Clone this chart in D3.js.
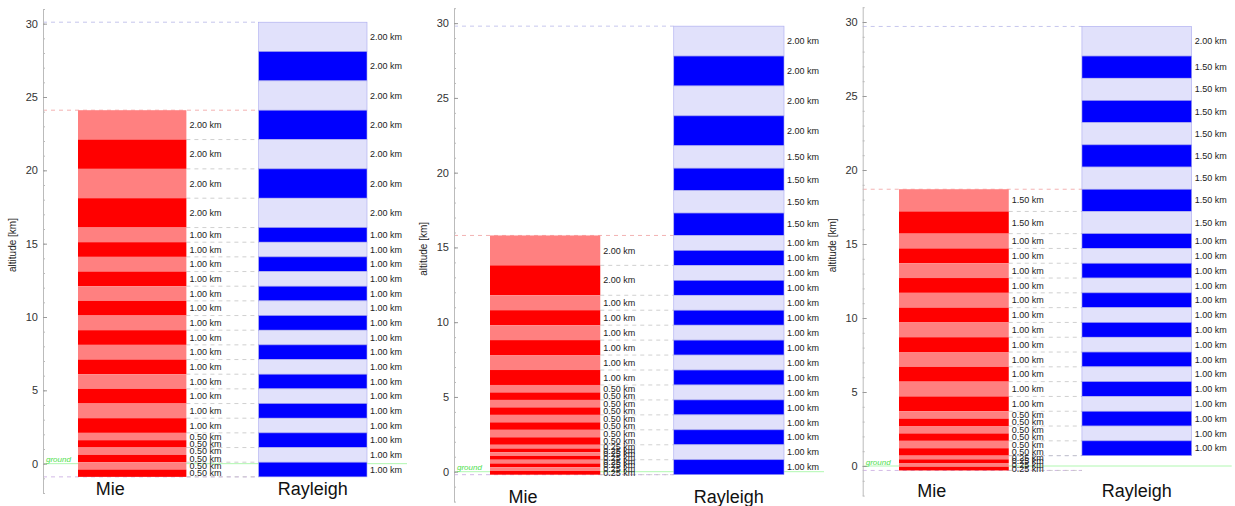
<!DOCTYPE html>
<html>
<head>
<meta charset="utf-8">
<script src="https://cdn.jsdelivr.net/npm/d3@7"></script>
<style>
  body { margin: 0; background: #fff; }
  svg { font-family: "Liberation Sans", Arial, sans-serif; }
</style>
</head>
<body>
<svg id="chart" width="1235" height="506"></svg>
<script>
// layer thicknesses in km, listed from the top of each column down
const mieLayers1 = [2, 2, 2, 2, 1, 1, 1, 1, 1, 1, 1, 1, 1, 1, 1, 1, 1, 1, 0.5, 0.5, 0.5, 0.5, 0.5, 0.5];
const rayLayers1 = [2, 2, 2, 2, 2, 2, 2, 1, 1, 1, 1, 1, 1, 1, 1, 1, 1, 1, 1, 1, 1, 1, 1, 1];
const mieLayers2 = [2, 2, 1, 1, 1, 1, 1, 1, 0.5, 0.5, 0.5, 0.5, 0.5, 0.5, 0.5, 0.5, 0.25, 0.25, 0.25, 0.25, 0.25, 0.25, 0.25, 0.25];
const rayLayers2 = [2, 2, 2, 2, 1.5, 1.5, 1.5, 1.5, 1, 1, 1, 1, 1, 1, 1, 1, 1, 1, 1, 1, 1, 1, 1, 1];
const mieLayers3 = [1.5, 1.5, 1, 1, 1, 1, 1, 1, 1, 1, 1, 1, 1, 1, 0.5, 0.5, 0.5, 0.5, 0.5, 0.5, 0.25, 0.25, 0.25, 0.25];
const rayLayers3 = [2, 1.5, 1.5, 1.5, 1.5, 1.5, 1.5, 1.5, 1.5, 1, 1, 1, 1, 1, 1, 1, 1, 1, 1, 1, 1, 1, 1, 1];
// altitude of the bottom of each column (km)
const mieBases = [-0.9, -0.2, -0.3];
const rayBases = [-0.9, -0.2, 0.7];
const categories = ['Mie', 'Rayleigh'];
const altDomain = [-2, 31];
const majorTicks = [0, 5, 10, 15, 20, 25, 30];

const colors = {
  Mie: { dark: '#ff0000', light: '#ff8080', stroke: 'none', edge: '#f0a0a0' },
  Rayleigh: { dark: '#0000ff', light: '#e1e1fb', stroke: '#a8a8ee', edge: '#b8b8e8' }
};

// panel layout (screen positions)
const panels = [
  { axisX: 43, top: 9, bottom: 493, bars: [78, 367], mie: mieLayers1, ray: rayLayers1 },
  { axisX: 454, top: 8.2, bottom: 501.6, bars: [490, 784], mie: mieLayers2, ray: rayLayers2 },
  { axisX: 862.7, top: 7.2, bottom: 495.6, bars: [899, 1191.7], mie: mieLayers3, ray: rayLayers3 }
];

// turn thickness lists into stacked layers with absolute altitudes
const stackLayers = (layers, base) => {
  let y1 = base + d3.sum(layers);
  return layers.map((t, i) => {
    const d = { top: y1, bottom: y1 - t, thick: t, fromBottom: layers.length - 1 - i };
    y1 -= t;
    return d;
  });
};

const svg = d3.select('#chart');

panels.forEach((p, pi) => {
  const y = d3.scaleLinear().domain(altDomain).range([p.bottom, p.top]);
  const x = d3.scaleBand().domain(categories).range(p.bars).paddingInner(0.4);
  const g = svg.append('g');

  const mie = stackLayers(p.mie, mieBases[pi]);
  const ray = stackLayers(p.ray, rayBases[pi]);
  const mieTop = mie[0].top;
  const rayTop = ray[0].top;
  const mieRight = x('Mie') + x.bandwidth();
  const rayLeft = x('Rayleigh');

  // ground line
  g.append('line')
    .attr('x1', p.axisX).attr('x2', p.bars[1] + 40)
    .attr('y1', y(0)).attr('y2', y(0))
    .style('stroke', '#9cf59c').style('stroke-width', 0.8);
  g.append('text')
    .attr('x', p.axisX + 3).attr('y', y(0) - 1.5)
    .style('font-size', '8px').style('font-style', 'italic')
    .style('fill', '#4ee04e')
    .text('ground');

  // top / bottom guide lines from the axis
  const guide = (alt, color) => g.append('line')
    .attr('x1', p.axisX).attr('x2', rayLeft)
    .attr('y1', y(alt)).attr('y2', y(alt))
    .style('stroke', color).style('stroke-width', 0.8)
    .style('stroke-dasharray', '4,4');
  guide(rayTop, colors.Rayleigh.edge);
  guide(mieTop, colors.Mie.edge);
  guide(Math.min(mieBases[pi], rayBases[pi]), '#c8a8e0');
  if (rayBases[pi] > mieBases[pi]) {
    g.append('line')
      .attr('x1', mieRight).attr('x2', rayLeft)
      .attr('y1', y(rayBases[pi])).attr('y2', y(rayBases[pi]))
      .style('stroke', colors.Rayleigh.edge).style('stroke-width', 0.8)
      .style('stroke-dasharray', '4,4');
  }

  // dashed lines between the columns at Mie boundaries, skipping ones closer than 1 km
  const bounds = [];
  let last = mieTop;
  mie.forEach((d, i) => {
    if (last - d.bottom >= 0.99 || i === mie.length - 1) {
      bounds.push(d.bottom);
      last = d.bottom;
    }
  });
  g.selectAll('line.bound').data(bounds).join('line')
    .attr('class', 'bound')
    .attr('x1', mieRight).attr('x2', rayLeft)
    .attr('y1', d => y(d)).attr('y2', d => y(d))
    .style('stroke', '#c4c4c4').style('stroke-width', 0.8)
    .style('stroke-dasharray', '4,4');

  // layered columns
  [['Mie', mie], ['Rayleigh', ray]].forEach(([cat, layers]) => {
    const c = colors[cat];
    g.selectAll(`rect.${cat}`).data(layers).join('rect')
      .attr('class', cat)
      .attr('x', x(cat))
      .attr('width', x.bandwidth())
      .attr('y', d => y(d.top))
      .attr('height', d => y(d.bottom) - y(d.top))
      .style('fill', d => d.fromBottom % 2 === 0 ? c.dark : c.light)
      .style('stroke', c.stroke)
      .style('stroke-width', 0.6);

    g.selectAll(`text.${cat}`).data(layers).join('text')
      .attr('class', cat)
      .attr('x', x(cat) + x.bandwidth() + 3)
      .attr('y', d => y((d.top + d.bottom) / 2))
      .attr('dy', '0.35em')
      .style('font-size', '9px')
      .style('fill', '#222')
      .text(d => `${d.thick.toFixed(2)} km`);

    g.append('text')
      .attr('x', x(cat) + x.bandwidth() / 2 + (cat === 'Mie' ? -22 : 0))
      .attr('y', p.bottom + 1.5)
      .attr('text-anchor', 'middle')
      .style('font-size', '18px')
      .style('fill', '#111')
      .text(cat);
  });

  // altitude axis
  const axisG = g.append('g').attr('transform', `translate(${p.axisX},0)`);
  axisG.call(d3.axisLeft(y).tickValues(d3.range(-2, 32)).tickSizeInner(-2).tickSizeOuter(0).tickFormat(''))
    .call(a => a.selectAll('line, path').style('stroke', '#bbb'));
  const major = g.append('g').attr('transform', `translate(${p.axisX},0)`)
    .call(d3.axisLeft(y).tickValues(majorTicks).tickSizeInner(-4).tickSizeOuter(0).tickPadding(5));
  major.select('.domain').remove();
  major.selectAll('line').style('stroke', '#999');
  major.selectAll('text').style('font-size', '11px').style('fill', '#333')
    .style('font-family', '"Liberation Sans", Arial, sans-serif');

  g.append('text')
    .attr('transform', `translate(${p.axisX - 27},${(p.top + p.bottom) / 2 - 6}) rotate(-90)`)
    .attr('text-anchor', 'middle')
    .style('font-size', '10px')
    .style('fill', '#222')
    .text('altitude [km]');
});
</script>
</body>
</html>
